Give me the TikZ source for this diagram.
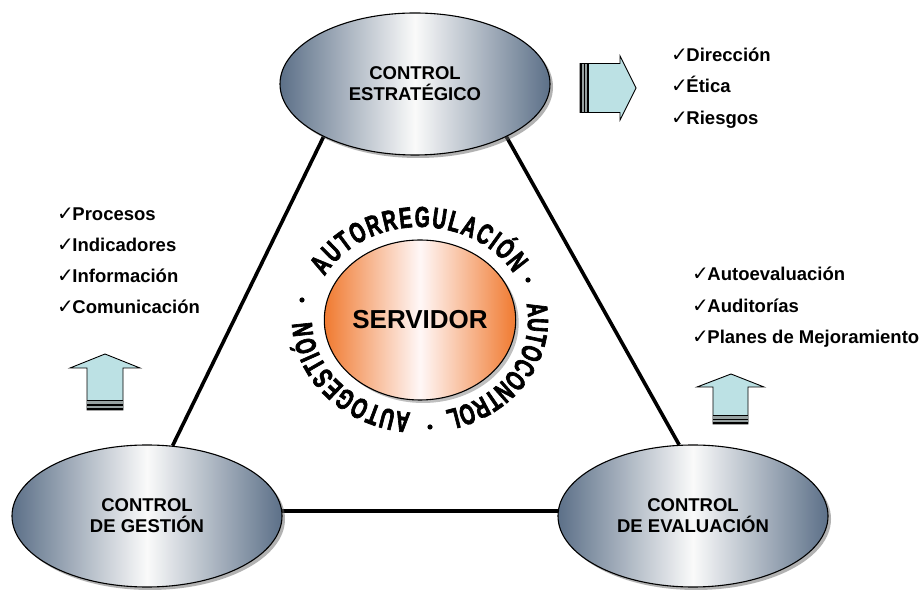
\documentclass[tikz,border=0pt]{standalone}
\usepackage{fontspec}
\setmainfont{Liberation Sans}
\newfontfamily\symfont{DejaVu Sans}
\newfontfamily\circfont[FakeStretch=0.66, FakeBold=2.2]{Liberation Sans}
\usetikzlibrary{shapes.geometric,shadows,decorations.text,backgrounds}

\definecolor{slate}{RGB}{92,112,136}
\definecolor{orng}{RGB}{240,122,48}
\definecolor{arrowfill}{RGB}{188,225,228}
\definecolor{stripegray}{RGB}{150,160,160}

\newcommand\mychk{{\symfont\mdseries\fontsize{20}{20}\selectfont ✓}\hspace{-1.5pt}}
\newcommand\circtext{\circfont\bfseries\fontsize{29}{29}\selectfont}

\tikzset{
  ctrl/.style={ellipse, draw=black, line width=1.1pt,
    minimum width=270pt, minimum height=142pt, inner sep=0pt,
    left color=slate, right color=slate, middle color=white!96!gray,
    drop shadow={shadow xshift=3pt, shadow yshift=-3pt, fill=black!60},
    font=\bfseries\fontsize{18.5}{21}\selectfont, align=center},
  srvbox/.style={ellipse, draw=black, line width=1.1pt,
    minimum width=184pt, minimum height=160pt, inner sep=0pt,
    left color=orng, right color=orng, middle color=white!97!red,
    drop shadow={shadow xshift=3pt, shadow yshift=-3pt, fill=black!50},
    font=\bfseries\fontsize{26}{27}\selectfont},
  listitem/.style={anchor=base west, inner sep=0pt,
    font=\bfseries\fontsize{18.5}{21}\selectfont},
  tri/.style={line width=3.6pt, draw=black},
  arrowshape/.style={fill=arrowfill, draw=black, line width=0.9pt, line join=miter},
  circdeco/.style={decorate, decoration={text along path, text={#1},
    text align={fit to path}}},
  dotmark/.style={fill=black}
}

\begin{document}
\begin{tikzpicture}[x=1pt,y=1pt]
\useasboundingbox (0,0) rectangle (923,591);

% ellipses
\node[ctrl] (top) at (415,507) {CONTROL\\ESTRATÉGICO};
\node[ctrl] (gl) at (147,75) {CONTROL\\DE GESTIÓN};
\node[ctrl] (ge) at (693,75) {CONTROL\\DE EVALUACIÓN};
\node[srvbox] (srv) at (420,271) {SERVIDOR};

% triangle connectors behind
\begin{scope}[on background layer]
  \fill[white] (0,0) rectangle (923,591);
  \draw[tri] (top.210) -- (gl.70);
  \draw[tri] (top.-30) -- (ge.101);
  \draw[tri] (gl.2) -- (ge.178);
\end{scope}

% circular text
\path[circdeco={|\circtext|AUTORREGULACIÓN}]
  (srv.center) ++(152:108pt and 93pt)
  arc[start angle=152, end angle=30, x radius=108pt, y radius=93pt];
\path[circdeco={|\circtext|AUTOCONTROL}]
  (srv.center) ++(10:108pt and 93pt)
  arc[start angle=10, end angle=-74, x radius=108pt, y radius=93pt];
\path[circdeco={|\circtext|AUTOGESTIÓN}]
  (srv.center) ++(-95:108pt and 93pt)
  arc[start angle=-95, end angle=-179, x radius=108pt, y radius=93pt];
\fill[dotmark] (528,311) circle (2.6pt);
\fill[dotmark] (430,164) circle (2.6pt);
\fill[dotmark] (302,291) circle (2.6pt);

% right arrow (top)
\draw[arrowshape] (580,527.5) -- (620,527.5) -- (620,535) -- (636,503)
  -- (620,471) -- (620,478.5) -- (580,478.5) -- cycle;
\fill[stripegray] (580,478.5) rectangle (588.5,527.5);
\foreach \xx in {580.8,584.3,588} \draw[line width=1.5pt] (\xx,478.5) -- (\xx,527.5);
\draw[line width=0.9pt] (580,478.5) rectangle (588.5,527.5);

% left up arrow
\draw[arrowshape] (87,181) -- (87,223) -- (70,223) -- (105,237)
  -- (140,223) -- (123,223) -- (123,181) -- cycle;
\fill[stripegray] (87,181) rectangle (123,191);
\foreach \yy in {181.8,186,190.3} \draw[line width=1.5pt] (87,\yy) -- (123,\yy);

% right up arrow
\draw[arrowshape] (713,167) -- (713,204) -- (697,204) -- (731,217)
  -- (764,204) -- (748,204) -- (748,167) -- cycle;
\fill[stripegray] (713,167) rectangle (748,176);
\foreach \yy in {167.8,171.7,175.5} \draw[line width=1.5pt] (713,\yy) -- (748,\yy);

% lists
\node[listitem] (d1) at (671,529.5) {\mychk Dirección};
\node[listitem] (d2) at (671,498) {\mychk Ética};
\node[listitem] (d3) at (671,466.5) {\mychk Riesgos};

\node[listitem] (p1) at (57,370) {\mychk Procesos};
\node[listitem] (p2) at (57,339) {\mychk Indicadores};
\node[listitem] (p3) at (57,308) {\mychk Información};
\node[listitem] (p4) at (57,277) {\mychk Comunicación};

\node[listitem] (a1) at (692,310) {\mychk Autoevaluación};
\node[listitem] (a2) at (692,278.5) {\mychk Auditorías};
\node[listitem] (a3) at (692,247) {\mychk Planes de Mejoramiento};
\end{tikzpicture}
\end{document}
